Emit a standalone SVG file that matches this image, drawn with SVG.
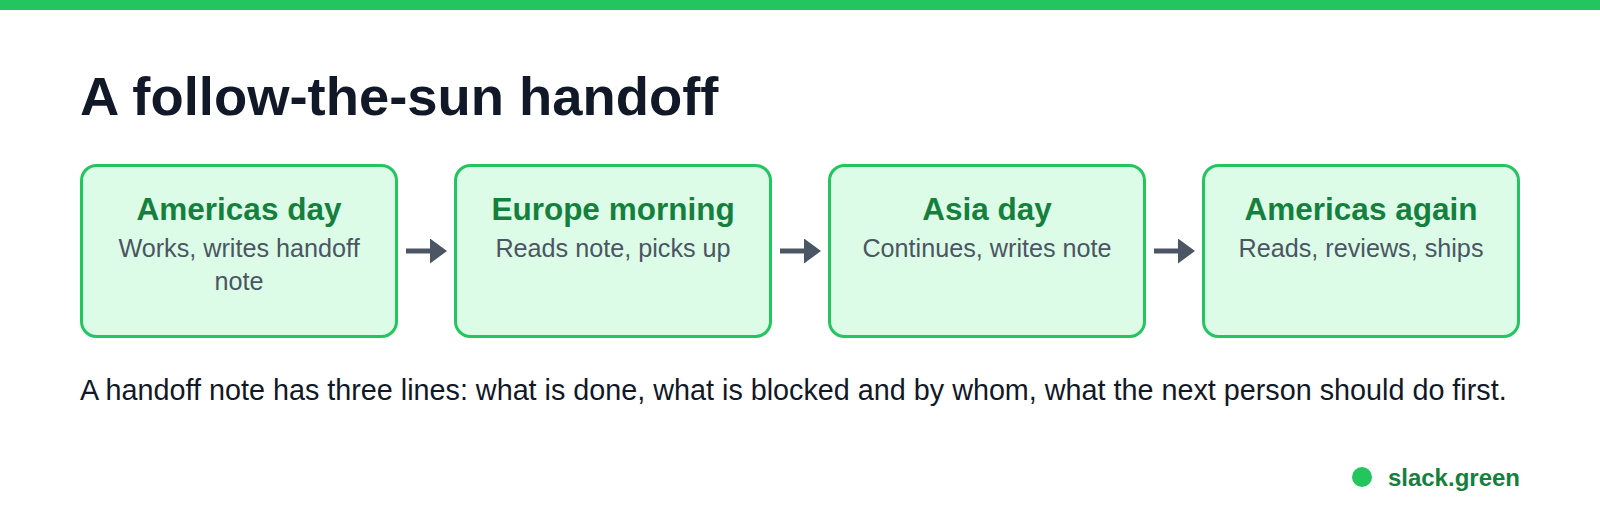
<svg xmlns="http://www.w3.org/2000/svg" width="1600" height="525" viewBox="0 0 1600 525">
<style>
.box{fill:#dcfce7;stroke:#22c55e;stroke-width:3}
.t{font-family:"Liberation Sans",Arial,sans-serif;font-weight:700;font-size:31.5px;fill:#15803d;text-anchor:middle}
.s{font-family:"Liberation Sans",Arial,sans-serif;font-size:25.2px;fill:#4b5563;text-anchor:middle}
.arrow{stroke:#4b5563;stroke-width:5;fill:none}
</style>
<defs>
<marker id="ah" markerUnits="userSpaceOnUse" markerWidth="18" markerHeight="26" refX="0" refY="12.5" orient="auto">
<path d="M0,0 L17,12.5 L0,25 Z" fill="#4b5563"/>
</marker>
</defs>
<rect x="0" y="0" width="1600" height="10" fill="#22c55e"/>
<text x="80" y="115" font-family="Liberation Sans,Arial,sans-serif" font-weight="700" font-size="54.4" fill="#111827">A follow-the-sun handoff</text>
<g id="node1">
<rect class="box" x="81.5" y="165.5" width="315" height="171" rx="15"/>
<text class="t" x="239" y="220">Americas day</text>
<text class="s" x="239" y="257">Works, writes handoff</text>
<text class="s" x="239" y="290">note</text>
</g>
<g id="node2">
<rect class="box" x="455.5" y="165.5" width="315" height="171" rx="15"/>
<text class="t" x="613" y="220">Europe morning</text>
<text class="s" x="613" y="257">Reads note, picks up</text>
</g>
<g id="node3">
<rect class="box" x="829.5" y="165.5" width="315" height="171" rx="15"/>
<text class="t" x="987" y="220">Asia day</text>
<text class="s" x="987" y="257">Continues, writes note</text>
</g>
<g id="node4">
<rect class="box" x="1203.5" y="165.5" width="315" height="171" rx="15"/>
<text class="t" x="1361" y="220">Americas again</text>
<text class="s" x="1361" y="257">Reads, reviews, ships</text>
</g>
<g id="connectors">
<line class="arrow" x1="406" y1="251" x2="430" y2="251" marker-end="url(#ah)"/>
<line class="arrow" x1="780" y1="251" x2="804" y2="251" marker-end="url(#ah)"/>
<line class="arrow" x1="1154" y1="251" x2="1178" y2="251" marker-end="url(#ah)"/>
</g>
<text x="80" y="400" font-family="Liberation Sans,Arial,sans-serif" font-size="28.75" fill="#111827">A handoff note has three lines: what is done, what is blocked and by whom, what the next person should do first.</text>
<g id="brand">
<circle cx="1362" cy="477" r="10" fill="#22c55e"/>
<text x="1520" y="486" text-anchor="end" font-family="Liberation Sans,Arial,sans-serif" font-weight="700" font-size="24" fill="#15803d">slack.green</text>
</g>
</svg>
